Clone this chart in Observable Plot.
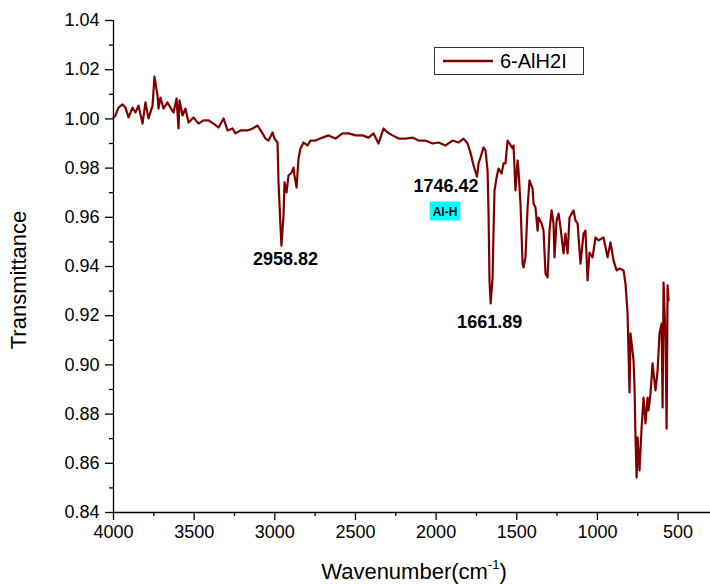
<!DOCTYPE html>
<html>
<head>
<meta charset="utf-8">
<script src="https://cdn.jsdelivr.net/npm/d3@7"></script>
<script src="https://cdn.jsdelivr.net/npm/@observablehq/plot@0.6"></script>
<style>
  html, body { margin: 0; padding: 0; background: #fff; }
  #chart { width: 710px; height: 584px; }
</style>
</head>
<body>
<div id="chart"></div>
<script>
// ---- data ----
const wavenumber = [
  4000,3988,3969,3944,3926,3907,3882,3864,3845,3820,
  3802,3783,3758,3746,3727,3721,3709,3690,3665,3647,
  3628,3609,3597,3591,3572,3554,3535,3504,3473,3442,
  3411,3380,3349,3318,3293,3262,3244,3213,3169,3138,
  3107,3076,3058,3039,3014,3002,2983,2977,2965,2958.82,
  2946,2940,2927,2915,2896,2884,2878,2865,2853,2841,
  2822,2797,2779,2748,2704,2667,2624,2580,2543,2500,
  2456,2419,2388,2357,2345,2326,2301,2270,2233,2190,
  2147,2109,2066,2022,1985,1942,1898,1861,1830,1805,
  1787,1768,1746.42,1737,1725,1706,1694,1681,1675,1669,
  1661.89,1650,1644,1638,1625,1613,1594,1582,1570,1557,
  1545,1526,1520,1508,1495,1489,1477,1464,1458,1446,
  1433,1421,1402,1396,1384,1371,1365,1346,1334,1322,
  1309,1297,1284,1272,1266,1253,1241,1229,1210,1198,
  1185,1173,1148,1136,1123,1105,1086,1074,1061,1049,
  1030,1012,993,962,937,919,900,881,863,838,
  826,813,807,801,795,776,770,764,757,751,
  739,726,714,702,689,683,671,658,652,640,
  627,615,602,596,590,578,571,565,559
];
const transmittance = [
  1.0006,1.0014,1.0046,1.0059,1.0046,1.0006,1.0046,1.0026,1.0054,0.9981,
  1.0067,1.0002,1.0054,1.0172,1.0095,1.0042,1.0087,1.0042,1.0067,1.0046,
  1.0026,1.0083,0.9961,1.0075,1.0014,1.0042,0.9985,1.0006,0.9981,0.9994,
  0.9994,0.9981,0.9965,1.0002,0.9953,0.9961,0.9941,0.9953,0.9953,0.9961,
  0.9973,0.9941,0.9920,0.9912,0.9945,0.9920,0.9904,0.9742,0.9567,0.9485,
  0.9607,0.9742,0.9701,0.9770,0.9782,0.9802,0.9770,0.9721,0.9839,0.9880,
  0.9904,0.9892,0.9912,0.9912,0.9924,0.9933,0.9920,0.9941,0.9941,0.9933,
  0.9933,0.9924,0.9941,0.9900,0.9924,0.9961,0.9945,0.9933,0.9920,0.9920,
  0.9924,0.9912,0.9912,0.9900,0.9904,0.9892,0.9912,0.9904,0.9920,0.9900,
  0.9863,0.9811,0.9765,0.9819,0.9843,0.9884,0.9872,0.9790,0.9615,0.9343,
  0.9250,0.9355,0.9546,0.9709,0.9762,0.9798,0.9778,0.9819,0.9819,0.9912,
  0.9900,0.9880,0.9892,0.9709,0.9831,0.9790,0.9656,0.9412,0.9396,0.9437,
  0.9640,0.9750,0.9717,0.9656,0.9640,0.9546,0.9599,0.9575,0.9546,0.9372,
  0.9355,0.9546,0.9628,0.9575,0.9437,0.9587,0.9615,0.9559,0.9453,0.9534,
  0.9453,0.9599,0.9628,0.9587,0.9575,0.9412,0.9534,0.9546,0.9343,0.9457,
  0.9437,0.9518,0.9506,0.9518,0.9437,0.9498,0.9424,0.9384,0.9392,0.9384,
  0.9331,0.9209,0.9046,0.8888,0.9128,0.9018,0.8908,0.8705,0.8542,0.8705,
  0.8571,0.8746,0.8867,0.8762,0.8867,0.8815,0.8884,0.9006,0.8965,0.8896,
  0.8977,0.9128,0.9168,0.8827,0.9335,0.9111,0.8741,0.9323,0.9262
];
const seriesName = "6-AlH2I";
const peakLabels = ["2958.82", "1746.42", "1661.89"];
const peakWn = [2958.82, 1746.42, 1661.89];
const peakT = [0.9485, 0.9765, 0.9250];
const bandLabel = "Al-H";
const xTicks = [4000, 3500, 3000, 2500, 2000, 1500, 1000, 500];
const xMinorTicks = [3750, 3250, 2750, 2250, 1750, 1250, 750];
const yTicks = [0.84, 0.86, 0.88, 0.90, 0.92, 0.94, 0.96, 0.98, 1.00, 1.02, 1.04];
const yMinorTicks = [0.85, 0.87, 0.89, 0.91, 0.93, 0.95, 0.97, 0.99, 1.01, 1.03];
const xTitle = "Wavenumber(cm";
const xTitleSup = "-1";
const yTitle = "Transmittance";

// ---- build ----
const spectrum = wavenumber.map((w, i) => ({wn: w, t: transmittance[i]}));
const peaks = peakWn.map((w, i) => ({wn: w, t: peakT[i], label: peakLabels[i]}));
const lineColor = "#800000";
const font = "'Liberation Sans', Arial, Helvetica, sans-serif";

const svg = Plot.plot({
  width: 710,
  height: 584,
  marginLeft: 113,
  marginRight: 0,
  marginTop: 20,
  marginBottom: 72,
  style: {fontFamily: font, fontSize: "18px", color: "#000", background: "#fff"},
  x: {domain: [4000, 299], label: null},
  y: {domain: [0.84, 1.04], label: null},
  marks: [
    Plot.axisY({ticks: yMinorTicks, tickSize: 4, tickFormat: () => "", label: null, strokeWidth: 1.3}),
    Plot.axisY({ticks: yTicks, tickSize: 8, tickPadding: 6, tickFormat: d3.format(".2f"), label: null, strokeWidth: 1.3}),
    Plot.axisX({ticks: xMinorTicks, tickSize: 4, tickFormat: () => "", label: null, strokeWidth: 1.3}),
    Plot.axisX({ticks: xTicks, tickSize: 8, tickPadding: 5, tickFormat: d => String(d), label: null, strokeWidth: 1.3}),
    Plot.ruleY([0.84], {stroke: "#000", strokeWidth: 1.3}),
    Plot.ruleX([4000], {stroke: "#000", strokeWidth: 1.3}),
    Plot.line(spectrum, {x: "wn", y: "t", stroke: lineColor, strokeWidth: 2.2, strokeLinejoin: "round"}),
    Plot.text([peaks[0]], {x: "wn", y: "t", text: "label", dx: 4, dy: 14, fontWeight: "bold", fontSize: 18}),
    Plot.text([peaks[1]], {x: "wn", y: "t", text: "label", dx: -31, dy: 10, fontWeight: "bold", fontSize: 18}),
    Plot.text([peaks[2]], {x: "wn", y: "t", text: "label", dx: -1, dy: 19, fontWeight: "bold", fontSize: 18}),
    Plot.text([peaks[1]], {x: "wn", y: "t", text: () => bandLabel, dx: -32, dy: 35, fontWeight: "bold", fontSize: 12})
  ]
});
document.getElementById("chart").appendChild(svg);

const root = d3.select(svg);
// cyan background behind the band label
const sBox = svg.getBoundingClientRect();
root.selectAll("text").filter(function() { return this.textContent === bandLabel; }).each(function() {
  const r = this.getBoundingClientRect();
  let g = this;
  while (g.parentNode && g.parentNode !== svg) g = g.parentNode;
  const rect = document.createElementNS("http://www.w3.org/2000/svg", "rect");
  rect.setAttribute("x", r.left - sBox.left - 3);
  rect.setAttribute("y", r.top - sBox.top - 3);
  rect.setAttribute("width", r.width + 6);
  rect.setAttribute("height", r.height + 5);
  rect.setAttribute("fill", "#00ffff");
  svg.insertBefore(rect, g);
});

// axis titles
root.append("text")
  .attr("transform", "translate(26,280) rotate(-90)")
  .attr("text-anchor", "middle")
  .attr("font-family", font).attr("font-size", 22)
  .text(yTitle);
const xt = root.append("text")
  .attr("x", 414).attr("y", 579)
  .attr("text-anchor", "middle")
  .attr("font-family", font).attr("font-size", 22);
xt.append("tspan").text(xTitle);
xt.append("tspan").attr("font-size", 13).attr("dy", -10).text(xTitleSup);
xt.append("tspan").attr("dy", 10).text(")");

// legend
const lg = root.append("g").attr("text-anchor", "start");
lg.append("rect").attr("x", 434.5).attr("y", 47.5).attr("width", 149).attr("height", 27)
  .attr("fill", "#fff").attr("stroke", "#333").attr("stroke-width", 1);
lg.append("line").attr("x1", 443).attr("x2", 493).attr("y1", 61).attr("y2", 61)
  .attr("stroke", lineColor).attr("stroke-width", 2.4);
lg.append("text").attr("x", 500).attr("y", 68).attr("text-anchor", "start")
  .attr("font-family", font).attr("font-size", 20).text(seriesName);
</script>
</body>
</html>
